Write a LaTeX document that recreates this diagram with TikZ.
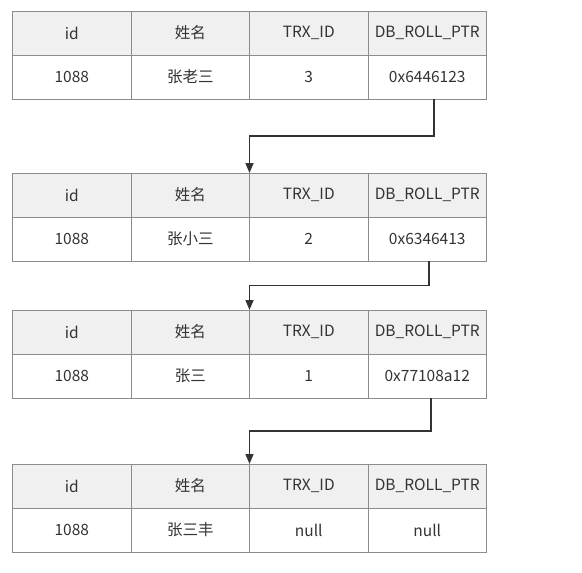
\documentclass[tikz,border=0pt]{standalone}
\usepackage{fontspec}
\setmainfont{Noto Sans CJK SC}
\usetikzlibrary{positioning,calc,arrows.meta}
\definecolor{gridgray}{HTML}{8C8C8C}
\definecolor{headfill}{HTML}{F0F0F0}
\definecolor{inkgray}{HTML}{333333}
\tikzset{
  cell/.style={draw=gridgray, line width=1pt, minimum width=118.5pt, minimum height=44pt,
    inner sep=0pt, outer sep=0pt, text=inkgray, font=\fontsize{15.5}{18}\selectfont},
  head/.style={cell, fill=headfill},
  link/.style={draw=inkgray, line width=1.6pt, -{Triangle[length=10pt,width=8pt]}}
}

\begin{document}
\begin{tikzpicture}[x=1pt, y=-1pt]
    \useasboundingbox (0,0) rectangle (582,573);
    % one undo-log record per table
    \foreach \t/\y/\who/\trx/\ptr in {1/11/张老三/3/0x6446123, 2/173/张小三/2/0x6346413,
                                      3/310/张三/1/0x77108a12, 4/464/张三丰/null/null} {
        \node[head, anchor=north west] (h\t-1) at (12.5,\y) {id};
        \node[head, right=0pt of h\t-1] (h\t-2) {姓名};
        \node[head, right=0pt of h\t-2] (h\t-3) {TRX\_ID};
        \node[head, right=0pt of h\t-3] (h\t-4) {DB\_ROLL\_PTR};
        \node[cell, below=0pt of h\t-1] (d\t-1) {1088};
        \node[cell, below=0pt of h\t-2] (d\t-2) {\who};
        \node[cell, below=0pt of h\t-3] (d\t-3) {\trx};
        \node[cell, below=0pt of h\t-4] (d\t-4) {\ptr};
    }
    % roll pointers
    \coordinate (p1) at ([xshift=7pt]d1-4.south);
    \coordinate (p2) at ([xshift=2pt]d2-4.south);
    \coordinate (p3) at ([xshift=4pt]d3-4.south);
    \draw[link] (p1) |- ($(p1)!0.5!(h2-3.north west)$) -| (h2-3.north west);
    \draw[link] (p2) |- ($(p2)!0.5!(h3-3.north west)$) -| (h3-3.north west);
    \draw[link] (p3) |- ($(p3)!0.5!(h4-3.north west)$) -| (h4-3.north west);
\end{tikzpicture}
\end{document}
